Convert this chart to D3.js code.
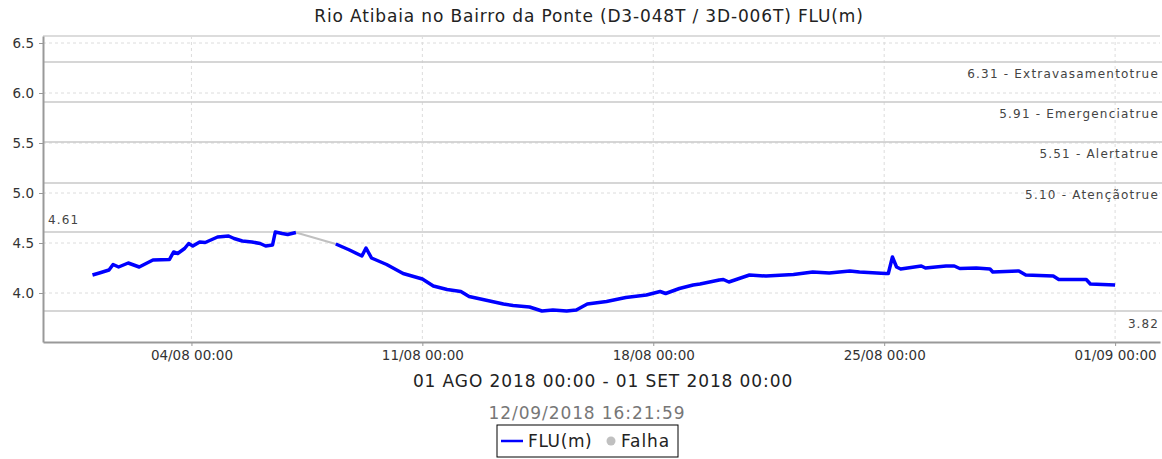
<!DOCTYPE html>
<html><head>
<meta charset="utf-8">
<title>Rio Atibaia no Bairro da Ponte</title>
<script src="https://d3js.org/d3.v7.min.js"></script>
<style>
  body { margin: 0; background: #fff; }
  text { font-family: "DejaVu Sans", sans-serif; }
</style>
</head>
<body>
<div id="chart"></div>
<script>

// data
var times = [
  "2018-08-01 00:00","2018-08-01 05:00","2018-08-01 12:00","2018-08-01 15:00","2018-08-01 19:00",
  "2018-08-02 02:00","2018-08-02 06:00","2018-08-02 10:00","2018-08-02 20:00","2018-08-03 08:00",
  "2018-08-03 11:00","2018-08-03 14:00","2018-08-03 19:00","2018-08-03 22:00","2018-08-04 01:00",
  "2018-08-04 06:00","2018-08-04 10:00","2018-08-04 19:00","2018-08-05 03:00","2018-08-05 07:00",
  "2018-08-05 13:00","2018-08-05 20:00","2018-08-06 02:00","2018-08-06 06:00","2018-08-06 11:00",
  "2018-08-06 13:00","2018-08-06 18:00","2018-08-06 22:00","2018-08-07 04:00",
  null,
  "2018-08-08 09:00","2018-08-08 19:00","2018-08-09 04:00","2018-08-09 07:00","2018-08-09 11:00",
  "2018-08-09 22:00","2018-08-10 10:00","2018-08-11 00:00","2018-08-11 08:00","2018-08-11 18:00",
  "2018-08-12 04:00","2018-08-12 10:00","2018-08-13 01:00","2018-08-13 11:00","2018-08-13 18:00",
  "2018-08-14 06:00","2018-08-14 15:00","2018-08-14 23:00","2018-08-15 09:00","2018-08-15 16:00",
  "2018-08-16 00:00","2018-08-16 14:00","2018-08-17 04:00","2018-08-17 19:00","2018-08-18 05:00",
  "2018-08-18 09:00","2018-08-18 19:00","2018-08-19 05:00","2018-08-19 10:00","2018-08-20 00:00",
  "2018-08-20 03:00","2018-08-20 07:00","2018-08-20 22:00","2018-08-21 10:00","2018-08-22 06:00",
  "2018-08-22 20:00","2018-08-23 08:00","2018-08-23 23:00","2018-08-24 06:00","2018-08-25 01:00",
  "2018-08-25 03:00","2018-08-25 06:00","2018-08-25 09:00","2018-08-25 12:00","2018-08-26 03:00",
  "2018-08-26 06:00","2018-08-26 21:00","2018-08-27 03:00","2018-08-27 07:00","2018-08-27 19:00",
  "2018-08-28 05:00","2018-08-28 07:00","2018-08-29 02:00","2018-08-29 07:00","2018-08-30 03:00",
  "2018-08-30 07:00","2018-08-31 03:00","2018-08-31 06:00","2018-09-01 00:00"
];
var levels = [
  4.18,4.20,4.23,4.285,4.26,
  4.30,4.28,4.26,4.33,4.335,
  4.41,4.395,4.445,4.495,4.47,
  4.51,4.505,4.56,4.57,4.545,
  4.52,4.51,4.495,4.47,4.48,
  4.61,4.595,4.585,4.605,
  null,
  4.49,4.43,4.37,4.45,4.35,
  4.285,4.195,4.14,4.07,4.035,
  4.015,3.965,3.92,3.89,3.875,
  3.86,3.82,3.83,3.82,3.83,
  3.89,3.915,3.955,3.98,4.015,
  3.995,4.045,4.08,4.09,4.13,
  4.135,4.11,4.18,4.17,4.185,
  4.21,4.20,4.22,4.21,4.195,
  4.195,4.36,4.26,4.24,4.27,
  4.25,4.27,4.27,4.245,4.25,
  4.24,4.21,4.22,4.18,4.17,
  4.135,4.135,4.09,4.08
];

// gap in the record (Falha)
var falhaTimes = ["2018-08-07 04:00", "2018-08-08 09:00"];
var falhaLevels = [4.605, 4.49];

// reference levels
var limitValues = [6.31, 5.91, 5.51, 5.10];
var limitLabels = ["6.31 - Extravasamentotrue", "5.91 - Emergenciatrue", "5.51 - Alertatrue", "5.10 - Atençãotrue"];
var maxLevel = 4.61, minLevel = 3.82;

var yTicks = [4.0, 4.5, 5.0, 5.5, 6.0, 6.5];
var xTicks = ["2018-08-04 00:00", "2018-08-11 00:00", "2018-08-18 00:00", "2018-08-25 00:00", "2018-09-01 00:00"];
var xDomain = ["2018-07-30 12:00", "2018-09-02 08:40"];
var yDomain = [3.51, 6.57];

var title = "Rio Atibaia no Bairro da Ponte (D3-048T / 3D-006T) FLU(m)";
var periodText = "01 AGO 2018 00:00 - 01 SET 2018 00:00";
var stampText = "12/09/2018 16:21:59";

var W = 1162, H = 459;
var margin = {top: 36, right: 2, bottom: 117, left: 43};
var width = W - margin.left - margin.right;
var height = H - margin.top - margin.bottom;

var parse = d3.timeParse("%Y-%m-%d %H:%M");

var svg = d3.select("#chart").append("svg")
    .attr("width", W)
    .attr("height", H);

var g = svg.append("g")
    .attr("transform", "translate(" + margin.left + "," + margin.top + ")");

var x = d3.scaleTime().domain(xDomain.map(parse)).range([0, width]);
var y = d3.scaleLinear().domain(yDomain).range([height, 0]);

// plot frame
g.append("line").attr("x1", 0).attr("x2", width).attr("y1", 0).attr("y2", 0)
    .attr("stroke", "#d0d0d0").attr("stroke-width", 1.5);

// dashed grid
g.selectAll(".hgrid").data(yTicks).enter().append("line")
    .attr("x1", 0).attr("x2", width)
    .attr("y1", function(d) { return y(d); }).attr("y2", function(d) { return y(d); })
    .attr("stroke", "#dcdcdc").attr("stroke-dasharray", "3,3");

g.selectAll(".vgrid").data(xTicks).enter().append("line")
    .attr("x1", function(d) { return x(parse(d)); }).attr("x2", function(d) { return x(parse(d)); })
    .attr("y1", 0).attr("y2", height)
    .attr("stroke", "#dcdcdc").attr("stroke-dasharray", "3,3");

// reference lines
var refs = limitValues.concat([maxLevel, minLevel]);
g.selectAll(".ref").data(refs).enter().append("line")
    .attr("x1", 0).attr("x2", width + margin.right)
    .attr("y1", function(d) { return y(d); }).attr("y2", function(d) { return y(d); })
    .attr("stroke", "#c8c8c8").attr("stroke-width", 1.5);

g.selectAll(".reflabel").data(limitValues).enter().append("text")
    .attr("x", width - 1)
    .attr("y", function(d) { return y(d) + 16; })
    .attr("text-anchor", "end")
    .style("font-size", "12px")
    .style("letter-spacing", "1.2px")
    .attr("fill", "#444")
    .text(function(d, i) { return limitLabels[i]; });

g.append("text")
    .attr("x", 5).attr("y", y(maxLevel) - 8)
    .style("font-size", "12px").style("letter-spacing", "1.1px")
    .attr("fill", "#444")
    .text(maxLevel.toFixed(2));

g.append("text")
    .attr("x", width - 1).attr("y", y(minLevel) + 17)
    .attr("text-anchor", "end")
    .style("font-size", "12px").style("letter-spacing", "1.1px")
    .attr("fill", "#444")
    .text(minLevel.toFixed(2));

// axes
var yAxis = d3.axisLeft(y).tickValues(yTicks).tickFormat(d3.format(".1f"))
    .tickSize(4).tickSizeOuter(0).tickPadding(5);
var gy = g.append("g").call(yAxis);

var xAxis = d3.axisBottom(x).tickValues(xTicks.map(parse)).tickFormat(d3.timeFormat("%d/%m %H:%M"))
    .tickSize(4).tickSizeOuter(0).tickPadding(4);
var gx = g.append("g").attr("transform", "translate(0," + height + ")").call(xAxis);

[gx, gy].forEach(function(a) {
  a.select(".domain").attr("stroke", "#999").attr("stroke-width", 2);
  a.selectAll(".tick line").attr("stroke", "#999");
  a.selectAll(".tick text").attr("fill", "#333").style("font-size", "13.5px").style("font-family", "DejaVu Sans");
});

// series
var pts = times.map(function(t, i) { return {t: t === null ? null : parse(t), v: levels[i]}; });

var line = d3.line()
    .defined(function(d) { return d.v !== null; })
    .x(function(d) { return x(d.t); })
    .y(function(d) { return y(d.v); });

g.append("path")
    .datum(falhaTimes.map(function(t, i) { return {t: parse(t), v: falhaLevels[i]}; }))
    .attr("fill", "none")
    .attr("stroke", "#c0c0c0")
    .attr("stroke-width", 2)
    .attr("d", line);

g.append("path")
    .datum(pts)
    .attr("fill", "none")
    .attr("stroke", "#0000ff")
    .attr("stroke-width", 3.5)
    .attr("stroke-linejoin", "round")
    .attr("d", line);

// titles
svg.append("text")
    .attr("x", 589).attr("y", 22)
    .attr("text-anchor", "middle")
    .style("font-size", "17px").style("letter-spacing", "0.85px")
    .attr("fill", "#222")
    .text(title);

svg.append("text")
    .attr("x", 603).attr("y", 387)
    .attr("text-anchor", "middle")
    .style("font-size", "17px").style("letter-spacing", "0.9px")
    .attr("fill", "#222")
    .text(periodText);

svg.append("text")
    .attr("x", 587).attr("y", 419)
    .attr("text-anchor", "middle")
    .style("font-size", "17px").style("letter-spacing", "0.9px")
    .attr("fill", "#777")
    .text(stampText);

// legend
var lg = svg.append("g").attr("transform", "translate(497,425)");
lg.append("rect").attr("width", 181).attr("height", 32)
    .attr("fill", "#fff").attr("stroke", "#000").attr("stroke-width", 1);
lg.append("line").attr("x1", 4).attr("x2", 26).attr("y1", 16).attr("y2", 16)
    .attr("stroke", "#0000ff").attr("stroke-width", 2.5);
lg.append("text").attr("x", 31).attr("y", 22)
    .style("font-size", "17px").style("letter-spacing", "0.6px").attr("fill", "#222")
    .text("FLU(m)");
lg.append("circle").attr("cx", 114).attr("cy", 16).attr("r", 4.5).attr("fill", "#c0c0c0");
lg.append("text").attr("x", 124).attr("y", 22)
    .style("font-size", "17px").style("letter-spacing", "0.9px").attr("fill", "#222")
    .text("Falha");

</script>
</body></html>
